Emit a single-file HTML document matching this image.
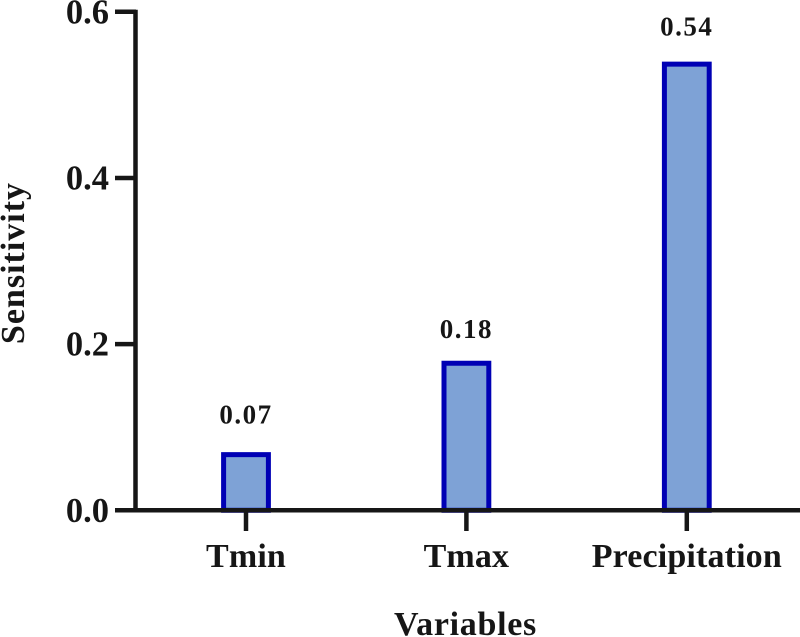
<!DOCTYPE html>
<html>
<head>
<meta charset="utf-8">
<style>
html,body{margin:0;padding:0;background:#fff;}
svg{display:block;}
text{font-family:"Liberation Serif",serif;font-weight:bold;fill:#161616;}
</style>
</head>
<body>
<svg id="chart" width="800" height="637" viewBox="0 0 800 637" xmlns="http://www.w3.org/2000/svg"></svg>
<script>
const categories = ["Tmin", "Tmax", "Precipitation"];
const values = [0.067, 0.177, 0.537];
const valueLabels = ["0.07", "0.18", "0.54"];
const yTicks = [0, 0.2, 0.4, 0.6];
const yTickLabels = ["0.0", "0.2", "0.4", "0.6"];

const labelGaps = [31, 25, 28.5];
const svg = document.getElementById('chart');
const NS = 'http://www.w3.org/2000/svg';
const y = v => 510.3 - (v / 0.6) * 498.5;
const x = i => 246 + i * 220.4;

function add(tag, attrs, text) {
  const el = document.createElementNS(NS, tag);
  for (const k in attrs) el.setAttribute(k, attrs[k]);
  if (text !== undefined) el.textContent = text;
  svg.appendChild(el);
  return el;
}

values.forEach((v, i) => {
  const bar = add('rect', {x: x(i) - 22.4, y: y(v), width: 44.8, height: 510.3 - y(v), fill: '#7ea2d6', stroke: '#0000b4', 'stroke-width': 5});
  
  
  const lab = add('text', {x: x(i), y: y(v) - labelGaps[i], 'text-anchor': 'middle', 'font-size': 27, 'letter-spacing': 1.5}, valueLabels[i]);
  
  
  const tick = add('line', {x1: x(i), x2: x(i), y1: 510, y2: 531, stroke: '#161616', 'stroke-width': 4.5});
  
  
  const cat = add('text', {x: x(i), y: 567, 'text-anchor': 'middle', 'font-size': 34, 'letter-spacing': 0.15}, categories[i]);
  
  
});

yTicks.forEach((t, i) => {
  const tick = add('line', {x1: 115, x2: 136, y1: y(t), y2: y(t), stroke: '#161616', 'stroke-width': 4.5});
  
  
  const lab = add('text', {x: 109, y: y(t) + 11.5, 'text-anchor': 'end', 'font-size': 34.5}, yTickLabels[i]);
  
  
});

const yAxis = add('line', {x1: 135.5, x2: 135.5, y1: 9.8, y2: 512, stroke: '#161616', 'stroke-width': 4.5});


const xAxis = add('line', {x1: 115, x2: 800, y1: 510.3, y2: 510.3, stroke: '#161616', 'stroke-width': 4.5});



const yTitle = add('text', {x: 24, y: 263, 'text-anchor': 'middle', 'font-size': 34, 'letter-spacing': 1, transform: 'rotate(-90 24 263)'}, 'Sensitivity');


const xTitle = add('text', {x: 465.5, y: 635, 'text-anchor': 'middle', 'font-size': 34, 'letter-spacing': 0.7}, 'Variables');


</script>
</body>
</html>
